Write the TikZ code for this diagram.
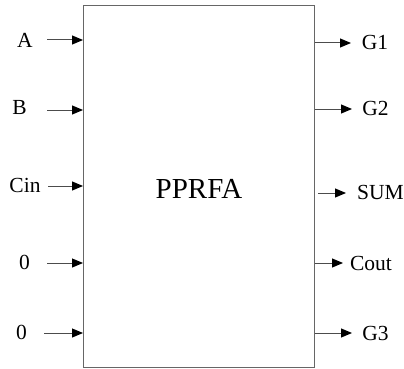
\documentclass[tikz,border=0pt]{standalone}
\usepackage{fontspec}
\setmainfont{Liberation Serif}
\usetikzlibrary{arrows.meta}
\begin{document}
\begin{tikzpicture}[x=1pt,y=-1pt,
  lbl/.style={font=\fontsize{21.5}{21.5}\selectfont, inner sep=0pt, anchor=base},
  arr/.style={draw=black!70, line width=1pt, -{Triangle[length=11pt,width=9pt,color=black]}},
  blk/.style={draw=black!60, line width=1pt, inner sep=0pt, anchor=north west}]
\useasboundingbox (0,0) rectangle (404,369);
\node[blk, minimum width=231pt, minimum height=362pt] (box) at (83,5) {};
\node[inner sep=0pt, anchor=base, font=\fontsize{29}{29}\selectfont] (title) at (199,198) {PPRFA};
% inputs
\node[lbl] (A) at (25,48) {A};
\node[lbl] (B) at (19.5,114) {B};
\node[lbl] (Cin) at (25,192) {Cin};
\node[lbl] (Z1) at (24.5,269) {0};
\node[lbl] (Z2) at (21.5,339) {0};
\coordinate (ia) at (47,40);
\coordinate (ib) at (47,110);
\coordinate (ic) at (48,186);
\coordinate (iz1) at (47,263);
\coordinate (iz2) at (44,333);
\foreach \c in {ia,ib,ic,iz1,iz2} \draw[arr] (\c) -- (\c -| box.west);
% outputs
\node[lbl] (G1) at (375,49) {G1};
\node[lbl] (G2) at (375.5,115) {G2};
\node[lbl] (SUM) at (380.5,199) {SUM};
\node[lbl] (Cout) at (371,270) {Cout};
\node[lbl] (G3) at (375.5,340) {G3};
\coordinate (og1) at (351,43);
\coordinate (og2) at (352,109);
\coordinate (osum) at (346,193);
\coordinate (ocout) at (343,263);
\coordinate (og3) at (352,333);
\draw[arr] (og1 -| box.east) -- (og1);
\draw[arr] (og2 -| box.east) -- (og2);
\draw[arr] ([xshift=3pt]osum -| box.east) -- (osum);
\draw[arr] (ocout -| box.east) -- (ocout);
\draw[arr] (og3 -| box.east) -- (og3);
\end{tikzpicture}
\end{document}
